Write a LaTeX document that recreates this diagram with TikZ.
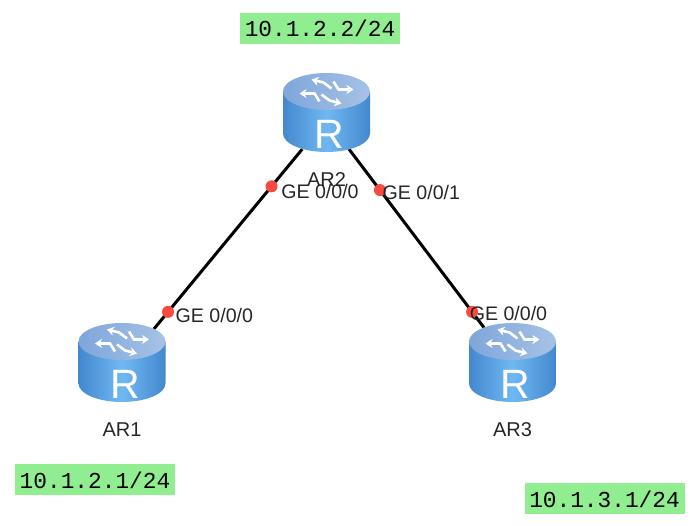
\documentclass[tikz,border=0pt]{standalone}
\usepackage{fontspec}
\setmainfont{Liberation Sans}
\newfontfamily\ipfont{Liberation Mono}
\usetikzlibrary{arrows.meta,positioning}
\definecolor{ipgreen}{HTML}{90EE90}
\definecolor{portred}{HTML}{F94A40}
\definecolor{bodyedge}{HTML}{4388CE}
\definecolor{bodymid}{HTML}{70B8F2}
\definecolor{topleft}{HTML}{7FA6DA}
\definecolor{topright}{HTML}{A6C2E6}
\tikzset{
  routerbox/.style ={rectangle,minimum width=87pt,minimum height=79pt,inner sep=0pt},
  link/.style      ={line width=3pt,black,shorten <=-4pt,shorten >=-8pt},
  portdot/.style   ={circle,fill=portred,minimum size=12pt,inner sep=0pt},
  portlabel/.style ={font=\fontsize{19.6}{22}\selectfont,text=black!85,inner sep=0pt},
  devlabel/.style  ={font=\fontsize{20}{22}\selectfont,text=black!85,inner sep=0pt},
  ipbox/.style     ={rectangle,fill=ipgreen,minimum width=160pt,minimum height=31pt,
                     inner sep=0pt,font=\ipfont\fontsize{22.8}{26}\selectfont},
  router/.pic={
    \path[left color=bodyedge,right color=bodyedge,middle color=bodymid]
      (-43.5,21) -- (-43.5,-21) arc[start angle=180,end angle=360,x radius=43.5pt,y radius=18.5pt]
      -- (43.5,21) -- cycle;
    \path[left color=topleft,right color=topright] (0,21) ellipse[x radius=43.5pt,y radius=18.5pt];
    \node[text=white,inner sep=0pt,font=\fontsize{41}{43}\selectfont] at (3,-22) {R};
    \begin{scope}[shift={(0,21)}]
      \foreach \s in {1,-1} {
        \draw[white,line width=2.6pt,scale=\s,-{Stealth[length=7pt,width=9pt]}] (5,3) -- (-3,9) -- (-15,12);
        \draw[white,line width=2.6pt,scale=\s,-{Stealth[length=7pt,width=9pt]}] (7,10) -- (12,2) -- (27,2);
      }
    \end{scope}
  }
}
\begin{document}
\begin{tikzpicture}[x=1pt,y=1pt]
  \useasboundingbox (0,0) rectangle (694,526);
  % Nodes
  \node (ar2) [routerbox] at (326.5,413.5) {};
  \node (ar1) [routerbox] at (122,163.5)   {};
  \node (ar3) [routerbox] at (512.5,163.5) {};
  \node (ar2label) [devlabel, below=20pt of ar2] {AR2};
  \node (ar1label) [devlabel, below=20pt of ar1] {AR1};
  \node (ar3label) [devlabel, below=20pt of ar3] {AR3};
  \node (ip2) [ipbox] at (320,497.5) {10.1.2.2/24};
  \node (ip1) [ipbox] at (95,46)     {10.1.2.1/24};
  \node (ip3) [ipbox] at (604.5,27)  {10.1.3.1/24};

  % Links
  \draw [link] (ar2.236) -- node[portdot,pos=.2] (p2a) {} node[portdot,pos=.936] (p1) {} (ar1.47);
  \draw [link] (ar2.302) -- node[portdot,pos=.222] (p2b) {} node[portdot,pos=.936] (p3) {} (ar3.129);

  % Routers
  \pic at (ar2) {router};
  \pic at (ar1) {router};
  \pic at (ar3) {router};

  % Port labels
  \node (p2alabel) [portlabel, right=2pt of p2a, yshift=-5pt] {GE 0/0/0};
  \node (p2blabel) [portlabel, right=-5pt of p2b, yshift=-2pt] {GE 0/0/1};
  \node (p1label)  [portlabel, right=0pt of p1, yshift=-4pt]  {GE 0/0/0};
  \node (p3label)  [portlabel, right=-10pt of p3, yshift=-2pt] {GE 0/0/0};
\end{tikzpicture}
\end{document}
